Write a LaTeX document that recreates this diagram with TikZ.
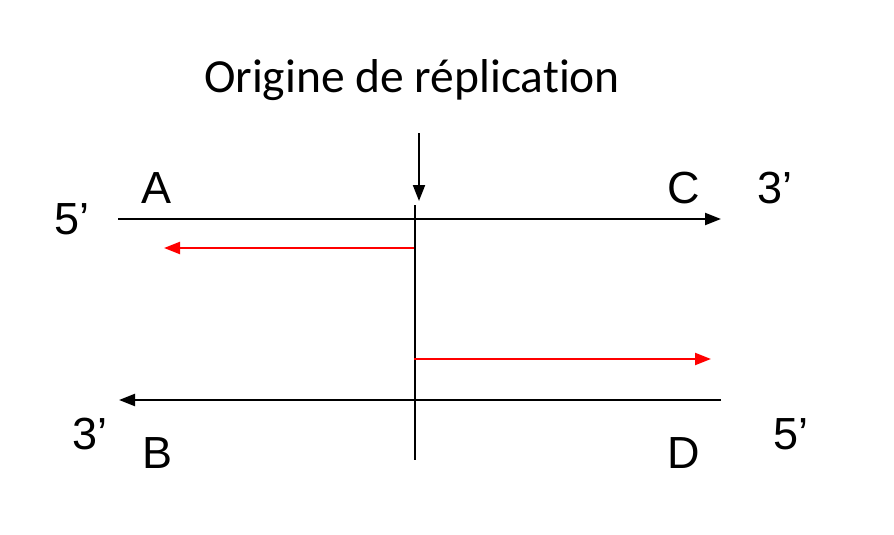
\documentclass[tikz,border=0pt]{standalone}
\usepackage{fontspec}
\setmainfont{Liberation Sans}
\newfontfamily\titlefont[Ligatures={NoCommon}]{Carlito}
\usetikzlibrary{arrows.meta}
\begin{document}
\begin{tikzpicture}[x=1pt,y=-1pt,
  strand/.style={line width=2.2pt,-{Triangle[length=16pt,width=12pt]}},
  redstrand/.style={strand,red},
  lbl/.style={font=\fontsize{45}{48}\selectfont,inner sep=0pt}]
\useasboundingbox (0,0) rectangle (894,535);
\node[font=\titlefont\fontsize{47.5}{52}\selectfont,inner sep=0pt] (title) at (412,80) {Origine de réplication};
\coordinate (o1) at (419,133);
\coordinate (o2) at (419,201);
\draw[strand,line width=2pt] (o1) -- (o2);
\coordinate (t1) at (118,219);
\coordinate (t2) at (721,219);
\draw[strand] (t1) -- (t2);
\coordinate (b1) at (721,400);
\coordinate (b2) at (119,400);
\draw[strand] (b1) -- (b2);
\coordinate (v1) at (415,205);
\coordinate (v2) at (415,460);
\draw[line width=2.2pt] (v1) -- (v2);
\coordinate (r1) at (414,248);
\coordinate (r2) at (164,248);
\draw[redstrand] (r1) -- (r2);
\coordinate (s1) at (414,359);
\coordinate (s2) at (711,359);
\draw[redstrand] (s1) -- (s2);
\node[lbl] (p5a) at (72,219) {5’};
\node[lbl] (A) at (157,188) {A};
\node[lbl] (C) at (684,188) {C};
\node[lbl] (p3a) at (775,188) {3’};
\node[lbl] (p3b) at (90,434) {3’};
\node[lbl] (B) at (158,453) {B};
\node[lbl] (D) at (684,453) {D};
\node[lbl] (p5b) at (791,434) {5’};
\end{tikzpicture}
\end{document}
